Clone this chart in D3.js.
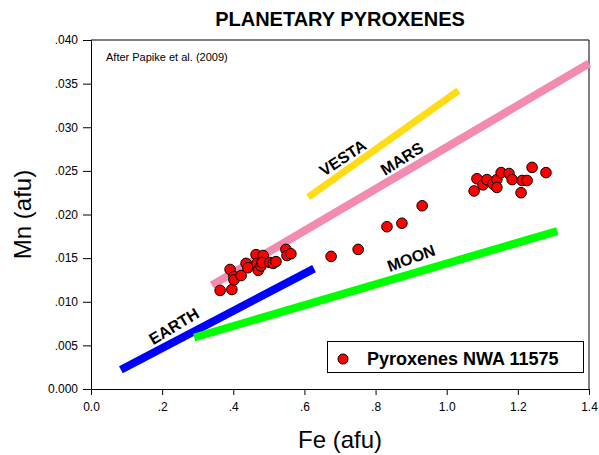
<!DOCTYPE html>
<html>
<head>
<meta charset="utf-8">
<script src="https://cdn.jsdelivr.net/npm/d3@7"></script>
<style>
  html, body { margin: 0; padding: 0; background: #fff; }
  svg { display: block; font-family: "Liberation Sans", Arial, sans-serif; }
</style>
</head>
<body>
<svg id="chart" width="599" height="455"></svg>
<script>
// ---- data ----
const feValues = [0.363, 0.396, 0.391, 0.402, 0.402, 0.422, 0.436, 0.441, 0.464, 0.467,
                  0.470, 0.478, 0.484, 0.481, 0.503, 0.512, 0.520, 0.548, 0.551, 0.562,
                  0.675, 0.751, 0.832, 0.874, 0.931,
                  1.077, 1.085, 1.102, 1.113, 1.130, 1.141, 1.141, 1.153, 1.175, 1.184,
                  1.212, 1.226, 1.209, 1.240, 1.279];
const mnValues = [0.0113, 0.0114, 0.0137, 0.0129, 0.0125, 0.0130, 0.0144, 0.0139, 0.0154, 0.0144,
                  0.0136, 0.0141, 0.0153, 0.0145, 0.0145, 0.0144, 0.0146, 0.0160, 0.0153, 0.0155,
                  0.0152, 0.0160, 0.0186, 0.0190, 0.0210,
                  0.0227, 0.0241, 0.0234, 0.0240, 0.0235, 0.0240, 0.0231, 0.0248, 0.0247, 0.0240,
                  0.0239, 0.0239, 0.0225, 0.0254, 0.0248];

const trendNames = ["MARS", "VESTA", "EARTH", "MOON"];
const trendFe = [[0.340, 1.400], [0.611, 1.033], [0.084, 0.627], [0.290, 1.311]];
const trendMn = [[0.0119, 0.0373], [0.0220, 0.0342], [0.0022, 0.0138], [0.0059, 0.0181]];
const trendColors = ["#f38bb0", "#ffdc14", "#0000ff", "#00ff00"];
// label anchor (data coords) and rotation
const labelFe = [0.874, 0.708, 0.233, 0.900];
const labelMn = [0.0264, 0.0265, 0.0072, 0.0150];
const labelAngle = [-32, -33, -31, -20];

const xTickValues = [0, 0.2, 0.4, 0.6, 0.8, 1.0, 1.2, 1.4];
const xTickLabels = ["0.0", ".2", ".4", ".6", ".8", "1.0", "1.2", "1.4"];
const yTickValues = [0, 0.005, 0.010, 0.015, 0.020, 0.025, 0.030, 0.035, 0.040];
const yTickLabels = ["0.000", ".005", ".010", ".015", ".020", ".025", ".030", ".035", ".040"];

const seriesName = "Pyroxenes NWA 11575";
const titleText = "PLANETARY PYROXENES";
const noteText = "After Papike et al. (2009)";

// ---- layout ----
const svg = d3.select("#chart");
const mLeft = 91, mRight = 589, mTop = 40, mBottom = 389;
const x = d3.scaleLinear().domain([0, 1.4]).range([mLeft, mRight]);
const y = d3.scaleLinear().domain([0, 0.04]).range([mBottom, mTop]);

// frame (top & right)
svg.append("path")
  .attr("d", `M${mLeft},${mTop}H${mRight}V${mBottom}`)
  .attr("fill", "none").attr("stroke", "#000").attr("stroke-width", 1);

// trend bands
trendNames.forEach((name, i) => {
  svg.append("line")
    .attr("x1", x(trendFe[i][0])).attr("y1", y(trendMn[i][0]))
    .attr("x2", x(trendFe[i][1])).attr("y2", y(trendMn[i][1]))
    .attr("stroke", trendColors[i])
    .attr("stroke-width", i === 1 ? 7 : 8)
    .attr("stroke-linecap", "butt");
});

// trend labels
trendNames.forEach((name, i) => {
  svg.append("text")
    .attr("transform", `translate(${x(labelFe[i])},${y(labelMn[i])}) rotate(${labelAngle[i]})`)
    .attr("text-anchor", "middle").attr("dy", "0.35em")
    .attr("font-size", 16).attr("font-weight", "bold").attr("fill", "#000")
    .text(name);
});

// points
svg.append("g").selectAll("circle")
  .data(feValues.map((f, i) => [f, mnValues[i]]))
  .join("circle")
  .attr("cx", d => x(d[0])).attr("cy", d => y(d[1]))
  .attr("r", 5.3)
  .attr("fill", "#ff0000").attr("stroke", "#000").attr("stroke-width", 1);

// axes
const xAxis = d3.axisBottom(x).tickValues(xTickValues)
  .tickFormat((d, i) => xTickLabels[i]).tickSizeOuter(0).tickSize(6).tickPadding(7);
const gx = svg.append("g").attr("transform", `translate(0,${mBottom})`).call(xAxis);
const yAxis = d3.axisLeft(y).tickValues(yTickValues)
  .tickFormat((d, i) => yTickLabels[i]).tickSizeOuter(0).tickSize(8).tickPadding(5);
const gy = svg.append("g").attr("transform", `translate(${mLeft},0)`).call(yAxis);
[gx, gy].forEach(g => {
  g.selectAll("text").attr("font-size", 12).attr("fill", "#000")
    .attr("font-family", "'Liberation Sans', Arial, sans-serif");
  g.selectAll("line, path").attr("stroke", "#000");
});

// titles
svg.append("text").attr("x", (mLeft + mRight) / 2).attr("y", 26)
  .attr("text-anchor", "middle").attr("font-size", 20).attr("font-weight", "bold")
  .text(titleText);
svg.append("text").attr("x", (mLeft + mRight) / 2).attr("y", 448)
  .attr("text-anchor", "middle").attr("font-size", 24).text("Fe (afu)");
svg.append("text").attr("transform", `translate(31,${(mTop + mBottom) / 2}) rotate(-90)`)
  .attr("text-anchor", "middle").attr("font-size", 24).text("Mn (afu)");

// note
svg.append("text").attr("x", 106).attr("y", 61).attr("font-size", 11).text(noteText);

// legend
const lg = svg.append("g");
lg.append("rect").attr("x", 327.5).attr("y", 341.5).attr("width", 256).attr("height", 31)
  .attr("fill", "#fff").attr("stroke", "#000").attr("stroke-width", 1);
lg.append("circle").attr("cx", 343).attr("cy", 359).attr("r", 5)
  .attr("fill", "#ff0000").attr("stroke", "#000");
lg.append("text").attr("x", 367).attr("y", 359).attr("dy", "0.35em")
  .attr("font-size", 18).attr("font-weight", "bold").text(seriesName);
</script>
</body>
</html>
